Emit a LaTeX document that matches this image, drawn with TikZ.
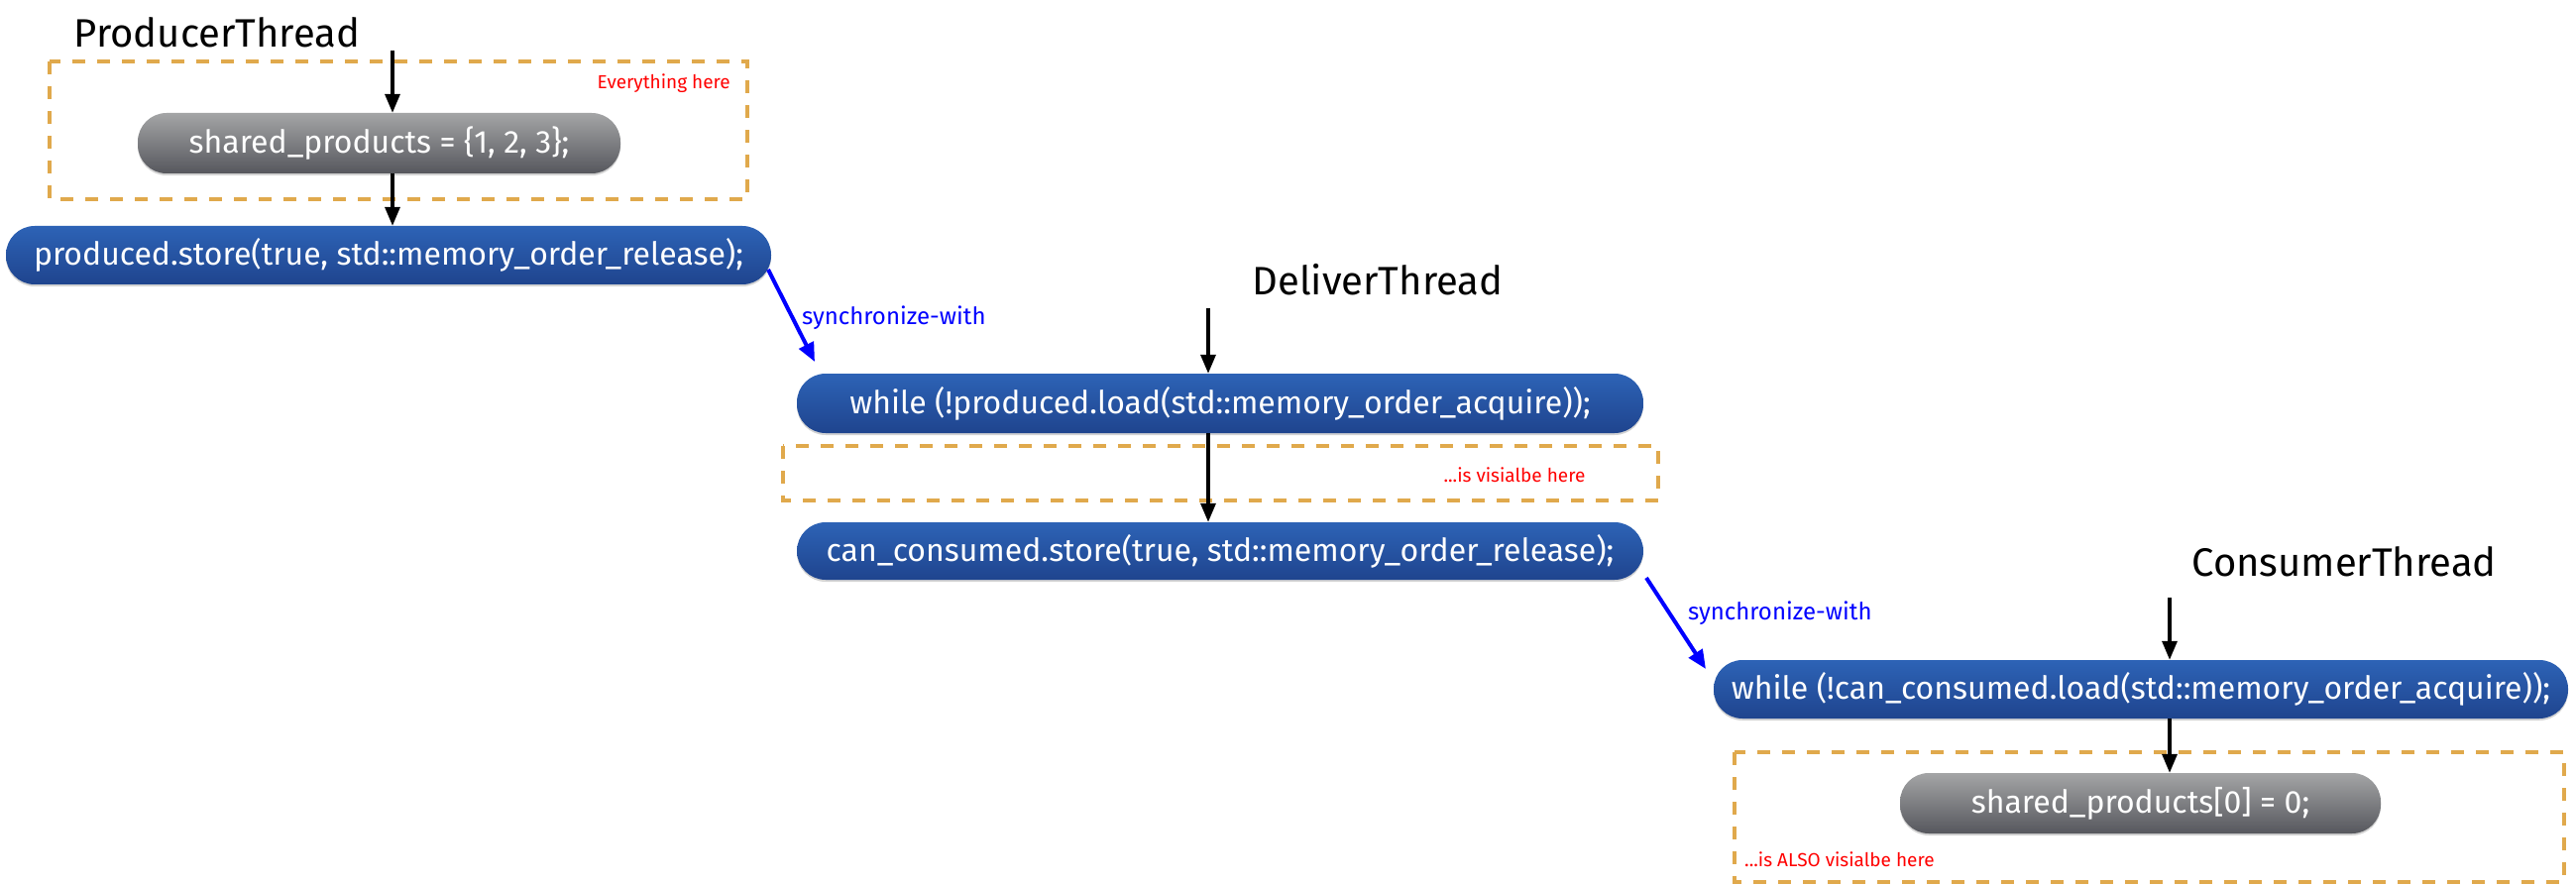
\documentclass[tikz,border=0pt]{standalone}
\usepackage{fontspec}
\setmainfont{Fira Sans}
\usetikzlibrary{arrows.meta,shadows,calc}
\definecolor{bluetop}{HTML}{2D63B6}
\definecolor{bluebot}{HTML}{1F448E}
\definecolor{graytop}{HTML}{A4A5A6}
\definecolor{graybot}{HTML}{56575D}
\definecolor{dashor}{HTML}{E0A94C}
\definecolor{notered}{HTML}{FF0000}
\tikzset{
  codebox/.style={rectangle, rounded corners=29pt, draw=none, text=white,
    font=\fontsize{32}{38}\selectfont, inner sep=0pt,
    drop shadow={opacity=0.35, shadow xshift=0pt, shadow yshift=-2pt}},
  bluebox/.style={codebox, top color=bluetop, bottom color=bluebot},
  graybox/.style={codebox, top color=graytop, bottom color=graybot},
  header/.style={font=\fontsize{40}{48}\selectfont, inner sep=0pt},
  note/.style={text=notered, font=\fontsize{19}{23}\selectfont, inner sep=0pt},
  synclabel/.style={text=blue, font=\fontsize{24}{28}\selectfont, inner sep=0pt},
  region/.style={draw=dashor, line width=3.5pt, dash pattern=on 13pt off 12pt},
  flow/.style={draw=black, line width=3.3pt, -{Triangle[length=19pt,width=15pt]}},
  sync/.style={draw=blue, line width=4pt, -{Triangle[length=19pt,width=16pt]}}
}
\begin{document}
\begin{tikzpicture}[x=1pt,y=-1pt]
\useasboundingbox (0,0) rectangle (2599,893);
% dashed regions
\draw[region] (50,62) rectangle (754,201);
\draw[region] (790,450) rectangle (1673,505);
\draw[region] (1750,759) rectangle (2587,890);
% headers
\node[header] (hp) at (219,33) {ProducerThread};
\node[header] (hd) at (1390,282) {DeliverThread};
\node[header] (hc) at (2365,567) {ConsumerThread};
% code nodes
\node[graybox, minimum width=487pt, minimum height=61pt] (g1) at (382.5,144.5) {shared\_products = \{1, 2, 3\};};
\node[bluebox, minimum width=772pt, minimum height=59pt] (b1) at (392,257.5) {produced.store(true, std::memory\_order\_release);};
\node[bluebox, minimum width=854pt, minimum height=60pt] (b2) at (1231,407) {while (!produced.load(std::memory\_order\_acquire));};
\node[bluebox, minimum width=854pt, minimum height=58pt] (b3) at (1231,556) {can\_consumed.store(true, std::memory\_order\_release);};
\node[bluebox, minimum width=862pt, minimum height=59pt] (b4) at (2160,695.5) {while (!can\_consumed.load(std::memory\_order\_acquire));};
\node[graybox, minimum width=485pt, minimum height=61pt] (g2) at (2159.5,810.5) {shared\_products[0] = 0;};
% notes
\node[note, anchor=east] (n1) at (737,84) {Everything here};
\node[note] (n2) at (1528,479) {...is visialbe here};
\node[note, anchor=west] (n3) at (1760,867) {...is ALSO visialbe here};
% thread flow arrows
\coordinate (sp) at (396,51);
\coordinate (sd) at (1219,311);
\coordinate (sc) at (2189,603);
\draw[flow] (sp) -- (sp |- g1.north);
\draw[flow] (g1.south -| sp) -- (b1.north -| sp);
\draw[flow] (sd) -- (sd |- b2.north);
\draw[flow] (b2.south -| sd) -- (b3.north -| sd);
\draw[flow] (sc) -- (sc |- b4.north);
\draw[flow] (b4.south -| sc) -- (g2.north -| sc);
% synchronize-with arrows
\coordinate (s1a) at (775,272);
\coordinate (s1b) at (822,365);
\coordinate (s2a) at (1661,583);
\coordinate (s2b) at (1721,675);
\draw[sync] (s1a) -- (s1b);
\draw[sync] (s2a) -- (s2b);
\node[synclabel, anchor=west] (l1) at (809,321) {synchronize-with};
\node[synclabel, anchor=west] (l2) at (1703,619) {synchronize-with};
\end{tikzpicture}
\end{document}
